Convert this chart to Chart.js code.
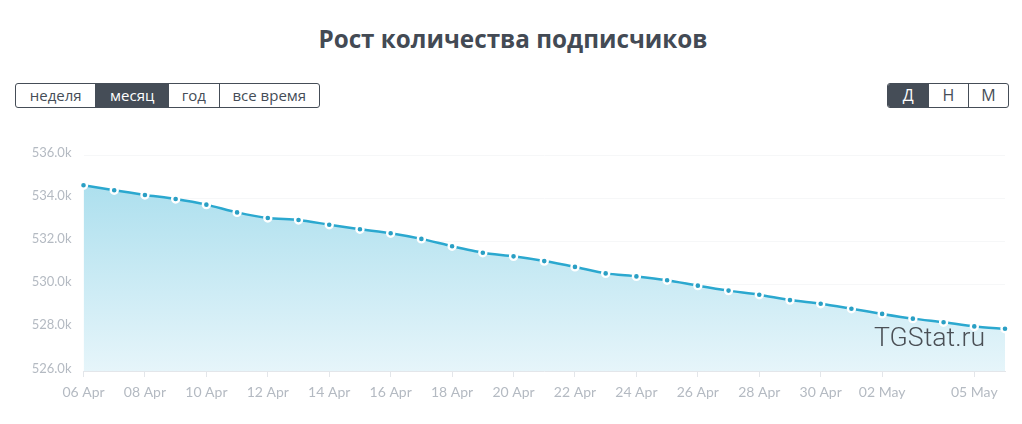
<!DOCTYPE html>
<html>
<head>
<meta charset="utf-8">
<script src="https://cdn.jsdelivr.net/npm/chart.js@4/dist/chart.umd.min.js"></script>
<style>
    body { margin: 0; background: #fff; width: 1022px; height: 424px; position: relative; overflow: hidden; font-family: 'Open Sans', sans-serif; }
    h1 { position: absolute; left: 0; top: 21px; width: 1026px; margin: 0; text-align: center; font-size: 24.25px; line-height: 36px; font-weight: 700; color: #434a54; }
    .btns { position: absolute; top: 83px; height: 25px; display: flex; border: 1px solid #454d57; border-radius: 3px; box-sizing: border-box; overflow: hidden; }
    .btns span { display: block; text-align: center; font-size: 15px; line-height: 23px; color: #454d57; border-left: 1px solid #454d57; box-sizing: border-box; }
    .btns span:first-child { border-left: 0; }
    .btns span.on { background: #454d57; color: #fff; }
    .btns.grande span { font-size: 16px; }
    #wrap { position: absolute; left: 0; top: 130px; width: 1022px; height: 290px; }
    #mark { position: absolute; left: 874px; top: 321px; font-family: Roboto, sans-serif; font-weight: 300; font-size: 26.7px; line-height: 32px; color: #4a4f55; }
</style>
</head>
<body>
<h1>Рост количества подписчиков</h1>
<div class="btns" style="left:15px;width:305px">
    <span style="width:80px">неделя</span><span class="on" style="width:73px">месяц</span><span style="width:51px">год</span><span style="width:101px">все время</span>
</div>
<div class="btns grande" style="left:887px;width:122px">
    <span class="on" style="width:41px">Д</span><span style="width:40px">Н</span><span style="width:41px">М</span>
</div>
<div id="wrap"><canvas id="chart"></canvas></div>
<div id="mark">TGStat.ru</div>
<script>
const dias = ['06 Apr','07 Apr','08 Apr','09 Apr','10 Apr','11 Apr','12 Apr','13 Apr','14 Apr','15 Apr','16 Apr',
    '17 Apr','18 Apr','19 Apr','20 Apr','21 Apr','22 Apr','23 Apr','24 Apr','25 Apr','26 Apr','27 Apr','28 Apr',
    '29 Apr','30 Apr','01 May','02 May','03 May','04 May','05 May','06 May'];
const diasVisibles = ['06 Apr','08 Apr','10 Apr','12 Apr','14 Apr','16 Apr','18 Apr','20 Apr','22 Apr','24 Apr',
    '26 Apr','28 Apr','30 Apr','02 May','05 May'];
const suscriptores = [534.62,534.39,534.17,533.98,533.72,533.36,533.10,533.01,532.79,532.58,532.39,
    532.13,531.79,531.49,531.32,531.10,530.83,530.53,530.39,530.21,529.96,529.73,529.54,
    529.29,529.12,528.89,528.65,528.43,528.26,528.07,527.96];
const ticksY = [526,528,530,532,534,536];

const ctx = document.getElementById('chart');
new Chart(ctx, {
    type: 'line',
    data: {
        labels: dias,
        datasets: [{
            data: suscriptores,
            borderColor: '#2ba8cf',
            borderWidth: 2.5,
            tension: 0.25,
            fill: true,
            backgroundColor: function(c) {
                const area = c.chart.chartArea;
                if(!area) return '#bfe6f1';
                const g = c.chart.ctx.createLinearGradient(0, area.top, 0, area.bottom);
                g.addColorStop(0, '#a4dcec');
                g.addColorStop(1, '#e6f5fa');
                return g;
            },
            pointRadius: 3.5,
            pointBorderWidth: 2.4,
            pointBorderColor: '#fff',
            pointBackgroundColor: '#2a9fc4'
        }]
    },
    options: {
        responsive: true,
        maintainAspectRatio: false,
        animation: false,
        layout: { padding: { left: 0, right: 17, top: 25.5, bottom: 0 } },
        plugins: { legend: { display: false }, tooltip: { enabled: false } },
        scales: {
            x: {
                offset: false,
                afterBuildTicks: function(scale) {
                    scale.ticks = scale.ticks.filter(t => diasVisibles.includes(dias[t.value]));
                },
                afterFit: function(scale) { scale.height = 49; },
                grid: { drawOnChartArea: false, color: '#e3e6ea', tickLength: 6 },
                border: { color: '#e3e6ea' },
                ticks: { autoSkip: false, maxRotation: 0, color: '#b4bac2', padding: 7, font: { family: 'Lato', size: 14 } }
            },
            y: {
                min: 526,
                max: 536,
                afterBuildTicks: function(scale) {
                    scale.ticks = ticksY.map(v => ({ value: v }));
                },
                afterFit: function(scale) { scale.width = 83.5; },
                grid: { color: '#f6f7f8', drawTicks: false },
                border: { display: false },
                ticks: {
                    color: '#b4bac2',
                    padding: 12,
                    // etiqueta un poco por encima de la linea de grid
                    font: { family: 'Lato', size: 13, lineHeight: 0.4 },
                    callback: function(value) { return [value.toFixed(1) + 'k', '']; }
                }
            }
        }
    }
});
</script>
</body>
</html>
